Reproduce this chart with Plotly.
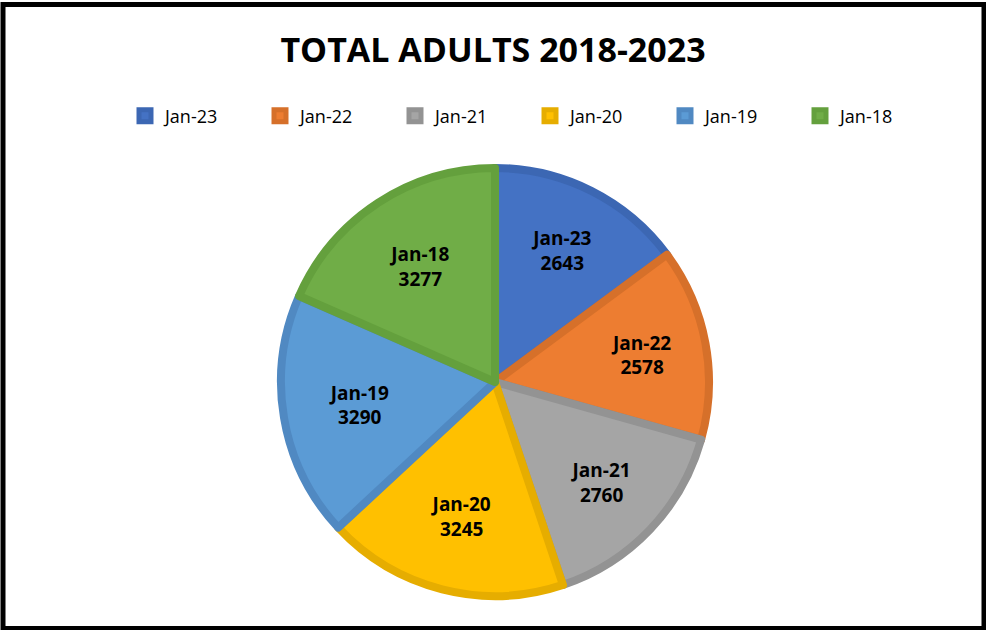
import plotly.graph_objects as go

labels = ["Jan-23", "Jan-22", "Jan-21", "Jan-20", "Jan-19", "Jan-18"]
values = [2643, 2578, 2760, 3245, 3290, 3277]
fill_colors = ["#4472C4", "#ED7D31", "#A5A5A5", "#FFC000", "#5B9BD5", "#70AD47"]
edge_colors = ["#3C67B3", "#D6702A", "#939393", "#E6AD00", "#5089C2", "#64A03D"]
title_text = "TOTAL ADULTS 2018-2023"

W, H = 986, 630
CX, CY, R = 495, 382, 214

fig = go.Figure(go.Pie(
    labels=labels,
    values=values,
    sort=False,
    direction="clockwise",
    rotation=0,
    marker=dict(colors=fill_colors, line=dict(color=edge_colors, width=8)),
    textinfo="label+value",
    texttemplate="<b>%{label}<br>%{value}</b>",
    textposition="inside",
    insidetextorientation="horizontal",
    textfont=dict(family="Open Sans", size=19, color="black"),
    hoverinfo="label+value",
    domain=dict(x=[(CX - R) / W, (CX + R) / W], y=[1 - (CY + R) / H, 1 - (CY - R) / H]),
))

fig.update_layout(
    width=W, height=H,
    margin=dict(l=0, r=0, t=0, b=0),
    paper_bgcolor="white",
    showlegend=True,
    title=dict(text="<b>" + title_text + "</b>", x=0.5, xanchor="center",
               y=1 - 50 / H, yanchor="middle",
               font=dict(family="Open Sans", size=34, color="black")),
    legend=dict(orientation="h", x=(135 - 10) / W, xanchor="left", y=1 - 116 / H, yanchor="middle",
                font=dict(family="Open Sans", size=18, color="black"),
                entrywidth=90, entrywidthmode="pixels", itemwidth=30),
    shapes=[dict(type="rect", xref="paper", yref="paper",
                 x0=3 / W, x1=984 / W, y0=1 - 628.5 / H, y1=1 - 4.5 / H,
                 line=dict(color="black", width=5), fillcolor="rgba(0,0,0,0)")],
)

fig.write_html("out.html", config={"displayModeBar": False},
               post_script="document.body.style.margin='0';document.body.style.padding='0';")
